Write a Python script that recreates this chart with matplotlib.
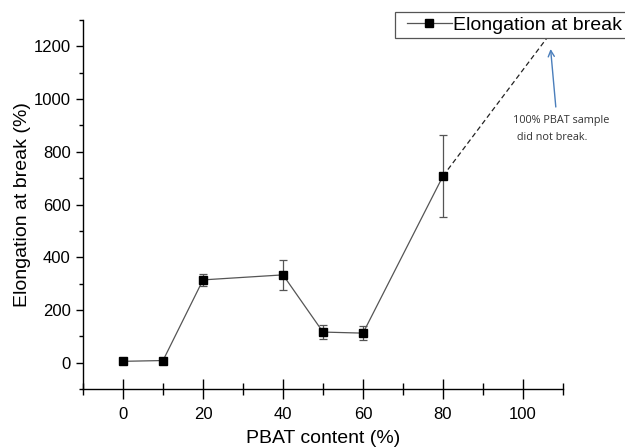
import matplotlib
matplotlib.use("Agg")
import matplotlib.pyplot as plt
from matplotlib.ticker import MultipleLocator
from matplotlib.patches import Rectangle
from matplotlib.lines import Line2D

plt.rcParams['font.family'] = ['Liberation Sans', 'DejaVu Sans']

pbat = [0, 10, 20, 40, 50, 60, 80]
elong = [5, 8, 314, 333, 116, 112, 708]
err = [0, 0, 23, 57, 27, 27, 155]
extrap_x = [80, 106]
extrap_y = [708, 1232]
xticks = [0, 20, 40, 60, 80, 100]
yticks = [0, 200, 400, 600, 800, 1000, 1200]

fig = plt.figure(figsize=(6.25, 4.47), dpi=100)
ax = fig.add_axes([83/625, 1-389/447, (563-83)/625, (389-20)/447])

ax.plot(extrap_x, extrap_y, ls=(0, (4, 2.5)), color='#222222', lw=0.9, zorder=2)
ax.errorbar(pbat, elong, yerr=err, fmt='none',
            ecolor='#555555', elinewidth=0.9, capsize=3, capthick=0.9, zorder=2)
ax.plot(pbat, elong, color='#555555', lw=0.9, marker='s', ms=6,
        mfc='black', mec='black', zorder=3)

ax.set_xlim(-10, 110)
ax.set_ylim(-100, 1300)
ax.set_xticks(xticks)
ax.set_yticks(yticks)
ax.xaxis.set_minor_locator(MultipleLocator(10))
ax.yaxis.set_minor_locator(MultipleLocator(100))
ax.spines['top'].set_visible(False)
ax.spines['right'].set_visible(False)
for s in ('left', 'bottom'):
    ax.spines[s].set_linewidth(1.0)
ax.tick_params(axis='x', which='major', direction='inout', length=14, width=1, labelsize=12, pad=6)
ax.tick_params(axis='x', which='minor', direction='inout', length=8, width=1)
ax.tick_params(axis='y', which='major', direction='out', length=5, width=1, labelsize=12, pad=4)
ax.tick_params(axis='y', which='minor', direction='out', length=3, width=1)
ax.set_xlabel('PBAT content (%)', fontsize=14, labelpad=6)
ax.set_ylabel('Elongation at break (%)', fontsize=14, labelpad=2)

ax.annotate('', xy=(106.9, 1190), xytext=(108.2, 970),
            arrowprops=dict(arrowstyle='->', color='#4a7ebb', lw=1.0,
                            shrinkA=0, shrinkB=0, mutation_scale=11))
ax.text(97.5, 917, '100% PBAT sample', fontsize=7.8, color='#333333',
        family=['Open Sans', 'DejaVu Sans'], ha='left', va='center')
ax.text(97.7, 856, ' did not break.', fontsize=7.8, color='#333333',
        family=['Open Sans', 'DejaVu Sans'], ha='left', va='center')

fig.patches.append(Rectangle((395/625, 1-38/447), 240/625, 26/447,
                             transform=fig.transFigure, fill=True, facecolor='white',
                             edgecolor='#555555', lw=0.9, zorder=5))
handle = Line2D([], [], color='#555555', lw=0.9, marker='s', ms=5.3,
                mfc='black', mec='black')
leg = fig.legend(handles=[handle], labels=['Elongation at break'], loc='center left',
                 bbox_to_anchor=(407/625, 1-25/447),
                 fontsize=14, frameon=False, handlelength=2.3,
                 borderpad=0, handletextpad=0.05, borderaxespad=0)
leg.set_zorder(6)

fig.savefig('out.png', dpi=100)
